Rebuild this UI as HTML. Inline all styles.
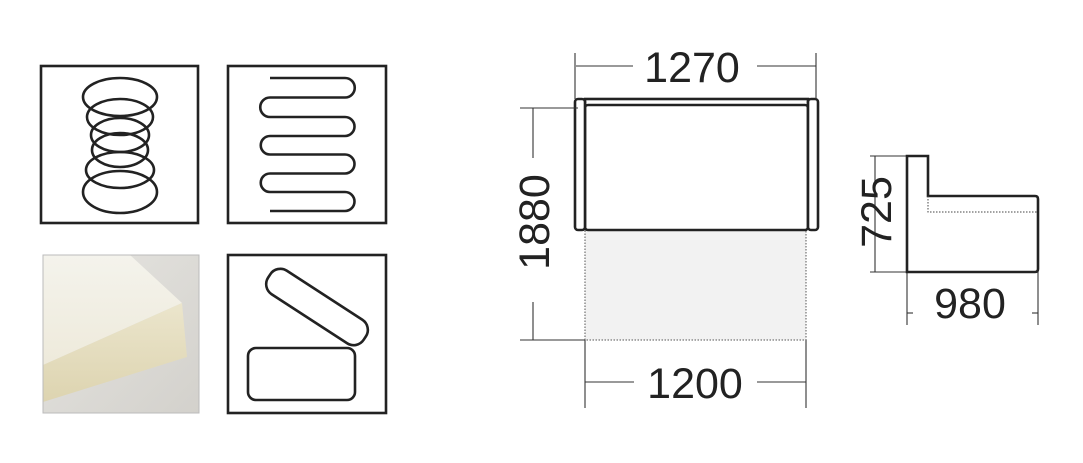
<!DOCTYPE html>
<html><head><style>body{margin:0;background:#fff}svg{display:block}</style></head><body>
<svg width="1083" height="463" viewBox="0 0 1083 463" xmlns="http://www.w3.org/2000/svg" font-family="Liberation Sans, Arial, sans-serif">
<defs>
<linearGradient id="bg" x1="0" y1="0" x2="1" y2="1"><stop offset="0" stop-color="#e6e5e1"/><stop offset="1" stop-color="#d3d1cc"/></linearGradient>
<linearGradient id="top" x1="0" y1="0" x2="0" y2="1"><stop offset="0" stop-color="#f4f3ec"/><stop offset="1" stop-color="#eeeadb"/></linearGradient>
<linearGradient id="side" x1="0" y1="0" x2="0" y2="1"><stop offset="0" stop-color="#ebe5cc"/><stop offset="1" stop-color="#ddd4b0"/></linearGradient>
</defs>
<g fill="none" stroke="#222" stroke-width="2.6">
<rect x="41" y="66" width="157" height="157"/>
<rect x="228" y="66" width="158" height="157"/>
<rect x="228" y="255" width="158" height="158"/>
</g>
<g fill="none" stroke="#222" stroke-width="2.6">
<ellipse cx="120" cy="97" rx="37" ry="19"/>
<ellipse cx="120" cy="117" rx="33" ry="18"/>
<ellipse cx="120" cy="135" rx="29" ry="17"/>
<ellipse cx="120" cy="150" rx="28" ry="17"/>
<ellipse cx="120" cy="170" rx="34" ry="18"/>
<ellipse cx="120" cy="192" rx="37" ry="21"/>
<path d="M270,78 H345 A9.75,9.75 0 0 1 345,97.5 H270 A9.75,9.75 0 0 0 270,117 H345 A9.5,9.5 0 0 1 345,136 H270 A9.25,9.25 0 0 0 270,154.5 H345 A9.5,9.5 0 0 1 345,173.5 H270 A9.25,9.25 0 0 0 270,192 H345 A9.5,9.5 0 0 1 345,211 H270"/>
<rect x="248" y="348" width="107" height="52" rx="8"/>
<rect x="-57" y="-14" width="114" height="28" rx="12" transform="translate(317 307) rotate(33)"/>
</g>
<rect x="43" y="255" width="156" height="158" fill="url(#bg)"/>
<polygon points="43,255 130,255 182,303 43,365" fill="url(#top)"/>
<polygon points="182,303 187,357 43,402 43,365" fill="url(#side)"/>
<rect x="43" y="255" width="156" height="158" fill="none" stroke="#bbb" stroke-width="1"/>
<rect x="585" y="230" width="221" height="110" fill="#f2f2f2" stroke="#555" stroke-width="1" stroke-dasharray="1.5 1.5"/>
<g fill="#fff" stroke="#222" stroke-width="2.6">
<rect x="585" y="99" width="223" height="7"/>
<rect x="585" y="105" width="223" height="125" rx="3"/>
<rect x="575" y="99" width="10" height="131" rx="3"/>
<rect x="808" y="99" width="10" height="131" rx="3"/>
</g>
<g stroke="#333" stroke-width="1.1">
<line x1="575" y1="53" x2="575" y2="99"/><line x1="816" y1="53" x2="816" y2="99"/>
<line x1="576" y1="66" x2="633" y2="66"/><line x1="757" y1="66" x2="816" y2="66"/>
<line x1="520" y1="108" x2="578" y2="108"/><line x1="520" y1="340" x2="585" y2="340"/>
<line x1="533" y1="108" x2="533" y2="158"/><line x1="533" y1="302" x2="533" y2="340"/>
<line x1="585" y1="340" x2="585" y2="408"/><line x1="806" y1="340" x2="806" y2="408"/>
<line x1="585" y1="382" x2="634" y2="382"/><line x1="757" y1="382" x2="806" y2="382"/>
<line x1="875" y1="156" x2="875" y2="272"/><line x1="870" y1="156" x2="906" y2="156"/><line x1="870" y1="272" x2="906" y2="272"/>
<line x1="907" y1="272" x2="907" y2="325"/><line x1="1038" y1="272" x2="1038" y2="325"/>
<line x1="907" y1="313" x2="913" y2="313"/><line x1="1032" y1="313" x2="1038" y2="313"/>
</g>
<path d="M907,156 H928 V196 H1035 Q1038,196 1038,199 V269 Q1038,272 1035,272 H907 Z" fill="#fff" stroke="#222" stroke-width="2.6"/>
<path d="M928,196 V212 H1038" fill="none" stroke="#444" stroke-width="1" stroke-dasharray="1.5 1.5"/>
<g font-size="43" fill="#222" text-anchor="middle">
<text x="692" y="82">1270</text>
<text x="695" y="398">1200</text>
<text x="970" y="318">980</text>
<text transform="translate(549 222) rotate(-90)">1880</text>
<text transform="translate(891 212) rotate(-90)">725</text>
</g>
</svg>
</body></html>
